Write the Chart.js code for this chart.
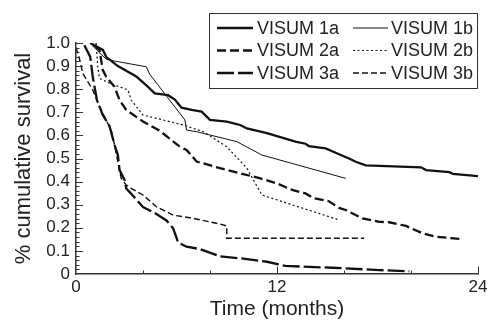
<!DOCTYPE html>
<html lang="en">
<head>
<meta charset="UTF-8">
<title>VISUM survival</title>
<style>
  html, body { margin: 0; padding: 0; background: #fff; }
  #wrap { width: 488px; height: 320px; }
</style>
</head>
<body>
<div id="wrap"><canvas id="chart" width="488" height="320"></canvas></div>
<script src="https://cdn.jsdelivr.net/npm/chart.js"></script>
<script>
// series data: months / cumulative survival
const names = ['VISUM 1a', 'VISUM 1b', 'VISUM 2a', 'VISUM 2b', 'VISUM 3a', 'VISUM 3b'];

const m1a = [0.85, 1.6, 1.8, 2.5, 3.6, 4.3, 4.7, 5.5, 5.9, 6.3, 6.9, 7.5, 8.0, 9.0, 9.8, 10.2, 11.4, 12.3, 13.1, 13.7, 13.9, 14.9, 15.5, 16.3, 16.7, 17.3, 20.6, 20.9, 22.3, 22.5, 24];
const s1a = [1.0, 0.97, 0.94, 0.90, 0.855, 0.81, 0.782, 0.774, 0.755, 0.72, 0.71, 0.703, 0.667, 0.66, 0.645, 0.63, 0.61, 0.59, 0.573, 0.564, 0.554, 0.544, 0.525, 0.50, 0.486, 0.47, 0.462, 0.45, 0.441, 0.433, 0.424];

const m1b = [0.95, 1.8, 2.3, 4.2, 4.4, 6.5, 6.6, 7.2, 9.6, 11.1, 16.1];
const s1b = [0.99, 0.93, 0.922, 0.897, 0.865, 0.667, 0.623, 0.616, 0.573, 0.515, 0.414];

const m2a = [1.1, 1.4, 1.6, 1.8, 2.3, 2.6, 3.0, 4.0, 5.0, 6.2, 6.6, 7.2, 7.5, 8.6, 9.8, 11.0, 12.0, 12.9, 13.7, 14.2, 15.1, 15.7, 16.1, 17.1, 18.1, 18.7, 19.7, 20.7, 21.5, 22.9];
const s2a = [0.99, 0.97, 0.883, 0.854, 0.81, 0.753, 0.71, 0.66, 0.62, 0.551, 0.537, 0.487, 0.481, 0.458, 0.436, 0.414, 0.392, 0.364, 0.349, 0.328, 0.315, 0.286, 0.277, 0.241, 0.226, 0.224, 0.208, 0.176, 0.161, 0.152];

const m2b = [1.2, 1.3, 1.4, 2.0, 3.1, 3.3, 4.0, 4.8, 6.4, 7.6, 9.0, 10.2, 11.1, 15.7];
const s2b = [1.0, 0.897, 0.847, 0.826, 0.797, 0.753, 0.688, 0.674, 0.645, 0.616, 0.551, 0.458, 0.342, 0.234];

const m3a = [0.5, 0.85, 1.0, 1.25, 1.6, 2.0, 2.3, 2.5, 2.6, 2.9, 3.0, 3.3, 3.8, 4.0, 4.8, 5.4, 5.8, 6.1, 6.6, 7.4, 8.6, 9.8, 11.4, 12.5, 15.3, 18.1, 19.9];
const s3a = [0.99, 0.94, 0.854, 0.753, 0.688, 0.64, 0.56, 0.515, 0.45, 0.407, 0.37, 0.347, 0.306, 0.29, 0.26, 0.232, 0.198, 0.136, 0.118, 0.108, 0.076, 0.068, 0.053, 0.035, 0.027, 0.017, 0.012];

const m3b = [0, 0.2, 0.4, 1.0, 1.4, 1.8, 2.1, 2.3, 2.6, 2.7, 3.0, 3.3, 4.0, 4.8, 5.8, 7.0, 8.6, 9.0, 9.0, 17.2];
const s3b = [0.98, 0.934, 0.869, 0.797, 0.724, 0.667, 0.623, 0.558, 0.45, 0.414, 0.385, 0.371, 0.342, 0.291, 0.255, 0.241, 0.216, 0.208, 0.155, 0.155];

const xLabels = [0, 12, 24];

const ink = '#222';
const font = "'Liberation Sans', Arial, Helvetica, sans-serif";

const pts = (xs, ys) => xs.map((x, i) => ({ x: x, y: ys[i] }));

const styles = [
  { w: 2.3, dash: [] },
  { w: 1, dash: [] },
  { w: 2.3, dash: [9, 4] },
  { w: 1.2, dash: [2, 2.5] },
  { w: 2.3, dash: [17, 4] },
  { w: 1.4, dash: [6, 3] },
];
const series = [[m1a, s1a], [m1b, s1b], [m2a, s2a], [m2b, s2b], [m3a, s3a], [m3b, s3b]];

const datasets = series.map((s, i) => ({
  label: names[i],
  data: pts(s[0], s[1]),
  borderColor: '#111',
  borderWidth: styles[i].w,
  borderDash: styles[i].dash,
  borderCapStyle: 'butt',
  pointRadius: 0,
  tension: 0,
  fill: false,
}));

// ticks drawn on the inside of the axes, plus the boxed legend
const decor = {
  id: 'decor',
  afterDraw(chart) {
    const { ctx, chartArea, scales: { x, y } } = chart;
    ctx.save();
    ctx.strokeStyle = '#333';
    ctx.lineWidth = 1;
    y.ticks.forEach(t => {
      const k = Math.round(t.value * 50);
      if (k === 0) return;
      const py = Math.round(y.getPixelForValue(t.value)) + 0.5;
      ctx.beginPath();
      ctx.moveTo(chartArea.left, py);
      ctx.lineTo(chartArea.left + (k % 5 === 0 ? 7 : 3.5), py);
      ctx.stroke();
    });
    x.ticks.forEach(t => {
      if (t.value === 0) return;
      const px = Math.round(x.getPixelForValue(t.value)) + 0.5;
      ctx.beginPath();
      ctx.moveTo(px, chartArea.bottom);
      ctx.lineTo(px, chartArea.bottom - (t.value % 12 === 0 ? 7.5 : 3.5));
      ctx.stroke();
    });

    // legend box
    ctx.strokeStyle = '#333';
    ctx.lineWidth = 1;
    ctx.strokeRect(209.5, 13.5, 268, 75);
    const rows = [28, 50.5, 73];
    const cols = [{ l: 217, r: 253, t: 257 }, { l: 353, r: 388, t: 391 }];
    ctx.font = '18px ' + font;
    ctx.fillStyle = ink;
    ctx.textBaseline = 'middle';
    chart.data.datasets.forEach((ds, i) => {
      const row = rows[Math.floor(i / 2)];
      const col = cols[i % 2];
      ctx.save();
      ctx.strokeStyle = '#111';
      ctx.lineWidth = ds.borderWidth;
      ctx.setLineDash(ds.borderDash);
      ctx.lineCap = 'butt';
      ctx.beginPath();
      ctx.moveTo(col.l, row);
      ctx.lineTo(col.r, row);
      ctx.stroke();
      ctx.restore();
      ctx.fillText(ds.label, col.t, row + 1);
    });
    ctx.restore();
  }
};

new Chart(document.getElementById('chart'), {
  type: 'line',
  data: { datasets: datasets },
  options: {
    responsive: false,
    animation: false,
    layout: { padding: { left: 0, top: 43, right: 10, bottom: 0 } },
    plugins: { legend: { display: false }, tooltip: { enabled: false } },
    scales: {
      x: {
        type: 'linear',
        min: 0,
        max: 24,
        afterFit: s => { s.height = 46; s.paddingLeft = 0; s.paddingRight = 0; },
        grid: { display: false, drawTicks: false },
        border: { display: true, color: '#333', width: 1.5 },
        ticks: {
          stepSize: 4,
          autoSkip: false,
          maxRotation: 0,
          padding: 3,
          color: ink,
          font: { family: font, size: 17 },
          callback: v => (xLabels.includes(v) ? String(v) : ''),
        },
        title: {
          display: true,
          text: 'Time (months)',
          color: ink,
          font: { family: font, size: 21, lineHeight: 1 },
          padding: { top: 0, bottom: 0 },
        },
      },
      y: {
        type: 'linear',
        min: 0,
        max: 1,
        afterFit: s => { s.width = 76; s.paddingTop = 0; s.paddingBottom = 0; },
        grid: { display: false, drawTicks: false },
        border: { display: true, color: '#333', width: 1.5 },
        ticks: {
          stepSize: 0.02,
          autoSkip: false,
          padding: 6,
          color: ink,
          font: { family: font, size: 17 },
          callback: v => {
            const k = Math.round(v * 50);
            if (k % 5 !== 0) return '';
            return k === 0 ? '0' : (k / 50).toFixed(1);
          },
        },
        title: {
          display: true,
          text: '% cumulative survival',
          color: ink,
          font: { family: font, size: 22, lineHeight: 1 },
          padding: { top: 13, bottom: 0 },
        },
      },
    },
  },
  plugins: [decor],
});
</script>
</body>
</html>
